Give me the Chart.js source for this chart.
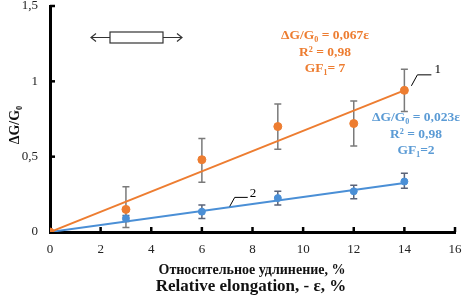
<!DOCTYPE html>
<html><head><meta charset="utf-8">
<script src="https://cdn.jsdelivr.net/npm/chart.js@4"></script>
<style>html,body{margin:0;padding:0;background:#fff}#w{width:463px;height:298px}</style>
</head><body><div id="w"><canvas id="c"></canvas></div>
<script>
const strain = [0, 3, 6, 9, 12, 14];
const sample1 = [0, 0.15, 0.48, 0.70, 0.72, 0.94];
const sample1Low = [0, 0.03, 0.33, 0.55, 0.57, 0.80];
const sample1High = [0, 0.30, 0.62, 0.85, 0.87, 1.08];
const sample2 = [0, 0.09, 0.135, 0.225, 0.27, 0.335];
const sample2Low = [0, 0.07, 0.09, 0.18, 0.22, 0.29];
const sample2High = [0, 0.11, 0.18, 0.27, 0.31, 0.39];
const trendX = [0, 14];
const trend1 = [0, 0.94];
const trend2 = [0, 0.325];
const xTicks = [0, 2, 4, 6, 8, 10, 12, 14, 16];
const yTicks = [0, 0.5, 1, 1.5];

const ORANGE = '#ED7D31', BLUE = '#4A8FD6';
const SERIF = '"Liberation Serif", "DejaVu Serif", serif';
const pts = (xs, ys) => xs.map((x, i) => ({x, y: ys[i]}));

const extras = {
  id: 'extras',
  beforeDatasetsDraw(chart) {
    const {ctx, scales: {x, y}} = chart;
    ctx.save();
    const bars = (lo, hi, col) => {
      ctx.strokeStyle = col; ctx.lineWidth = 1.5;
      strain.forEach((s, i) => {
        if (s === 0) return;
        const px = x.getPixelForValue(s), a = y.getPixelForValue(lo[i]), b = y.getPixelForValue(hi[i]);
        ctx.beginPath();
        ctx.moveTo(px, a); ctx.lineTo(px, b);
        ctx.moveTo(px - 3.5, a); ctx.lineTo(px + 3.5, a);
        ctx.moveTo(px - 3.5, b); ctx.lineTo(px + 3.5, b);
        ctx.stroke();
      });
    };
    bars(sample1Low, sample1High, '#7a7a7a');
    bars(sample2Low, sample2High, '#5a6378');
    ctx.restore();
  },
  afterDatasetsDraw(chart) {
    const {ctx, scales: {x, y}} = chart;
    ctx.save();
    ctx.strokeStyle = '#000'; ctx.lineWidth = 2.5;
    const y0 = y.getPixelForValue(0), x0 = x.getPixelForValue(0);
    xTicks.forEach(t => { if (t === 0) return; const px = x.getPixelForValue(t); ctx.beginPath(); ctx.moveTo(px, y0); ctx.lineTo(px, y0 - 5); ctx.stroke(); });
    yTicks.forEach(t => { if (t === 0) return; const py = y.getPixelForValue(t); ctx.beginPath(); ctx.moveTo(x0, py); ctx.lineTo(x0 + 5, py); ctx.stroke(); });
    ctx.lineWidth = 1; ctx.strokeStyle = '#000';
    const p1 = [x.getPixelForValue(14) + 7, y.getPixelForValue(0.97)];
    ctx.beginPath(); ctx.moveTo(p1[0], p1[1]); ctx.lineTo(p1[0] + 6, p1[1] - 11); ctx.lineTo(p1[0] + 20, p1[1] - 11); ctx.stroke();
    const p2 = [x.getPixelForValue(7.1), y.getPixelForValue(0.17)];
    ctx.beginPath(); ctx.moveTo(p2[0], p2[1]); ctx.lineTo(p2[0] + 5, p2[1] - 9); ctx.lineTo(p2[0] + 18, p2[1] - 9); ctx.stroke();
    ctx.fillStyle = '#000'; ctx.font = '13px ' + SERIF; ctx.textAlign = 'left'; ctx.textBaseline = 'middle';
    ctx.fillText('1', p1[0] + 23, p1[1] - 16);
    ctx.fillText('2', p2[0] + 20, p2[1] - 13);
    ctx.strokeStyle = '#333'; ctx.lineWidth = 1.2;
    ctx.fillStyle = '#fff';
    ctx.fillRect(110, 32, 53, 11); ctx.strokeRect(110, 32, 53, 11);
    ctx.beginPath();
    ctx.moveTo(110, 37.5); ctx.lineTo(91, 37.5); ctx.moveTo(96, 33.5); ctx.lineTo(91, 37.5); ctx.lineTo(96, 41.5);
    ctx.moveTo(163, 37.5); ctx.lineTo(182, 37.5); ctx.moveTo(177, 33.5); ctx.lineTo(182, 37.5); ctx.lineTo(177, 41.5);
    ctx.stroke();
    ctx.textAlign = 'center'; ctx.textBaseline = 'middle';
    const eq = (lines, cx, cy, col) => {
      ctx.fillStyle = col; ctx.font = 'bold 13.5px ' + SERIF;
      lines.forEach((l, i) => ctx.fillText(l, cx, cy + i * 16.5));
    };
    eq(['ΔG/G₀ = 0,067ε', 'R² = 0,98', 'GF₁= 7'], 325, 36, ORANGE);
    eq(['ΔG/G₀ = 0,023ε', 'R² = 0,98', 'GF₁=2'], 416, 118, '#5B9BD5');
    ctx.fillStyle = '#111';
    ctx.font = 'bold 14px ' + SERIF;
    ctx.fillText('Относительное удлинение, %', 252, 270);
    ctx.font = 'bold 17px ' + SERIF;
    ctx.fillText('Relative elongation, - ε, %', 251, 287);
    ctx.translate(15, 125); ctx.rotate(-Math.PI / 2);
    ctx.font = 'bold 14px ' + SERIF;
    ctx.fillText('ΔG/G₀', 0, 0);
    ctx.restore();
  }
};

new Chart(document.getElementById('c'), {
  type: 'scatter',
  data: {
    datasets: [
      {type: 'line', data: pts(trendX, trend1), borderColor: ORANGE, borderWidth: 2, pointRadius: 0, fill: false, order: 3},
      {type: 'line', data: pts(trendX, trend2), borderColor: BLUE, borderWidth: 2, pointRadius: 0, fill: false, order: 4},
      {data: pts(strain, sample2), backgroundColor: BLUE, borderColor: BLUE, pointRadius: 3.5, order: 2},
      {data: pts(strain, sample1), backgroundColor: ORANGE, borderColor: ORANGE, pointRadius: 4, order: 1}
    ]
  },
  options: {
    responsive: true, maintainAspectRatio: false, animation: false,
    layout: {padding: {top: 6, right: 8, left: 0, bottom: 0}},
    plugins: {legend: {display: false}, tooltip: {enabled: false}},
    scales: {
      x: {
        type: 'linear', min: 0, max: 16,
        afterBuildTicks: s => { s.ticks = xTicks.map(v => ({value: v})); },
        afterFit: s => { s.height = 66; s.paddingLeft = 0; s.paddingRight = 0; },
        grid: {display: false, drawTicks: false},
        border: {display: true, color: '#000', width: 3},
        ticks: {padding: 10, color: '#222', font: {family: SERIF, size: 13}, maxRotation: 0}
      },
      y: {
        min: 0, max: 1.5,
        afterBuildTicks: s => { s.ticks = yTicks.map(v => ({value: v})); },
        afterFit: s => { s.width = 50; s.paddingTop = 0; s.paddingBottom = 0; },
        grid: {display: false, drawTicks: false},
        border: {display: true, color: '#000', width: 3},
        ticks: {padding: 12, color: '#222', font: {family: SERIF, size: 13},
          callback: v => String(v).replace('.', ',')}
      }
    }
  },
  plugins: [extras]
});
</script>
</body></html>
